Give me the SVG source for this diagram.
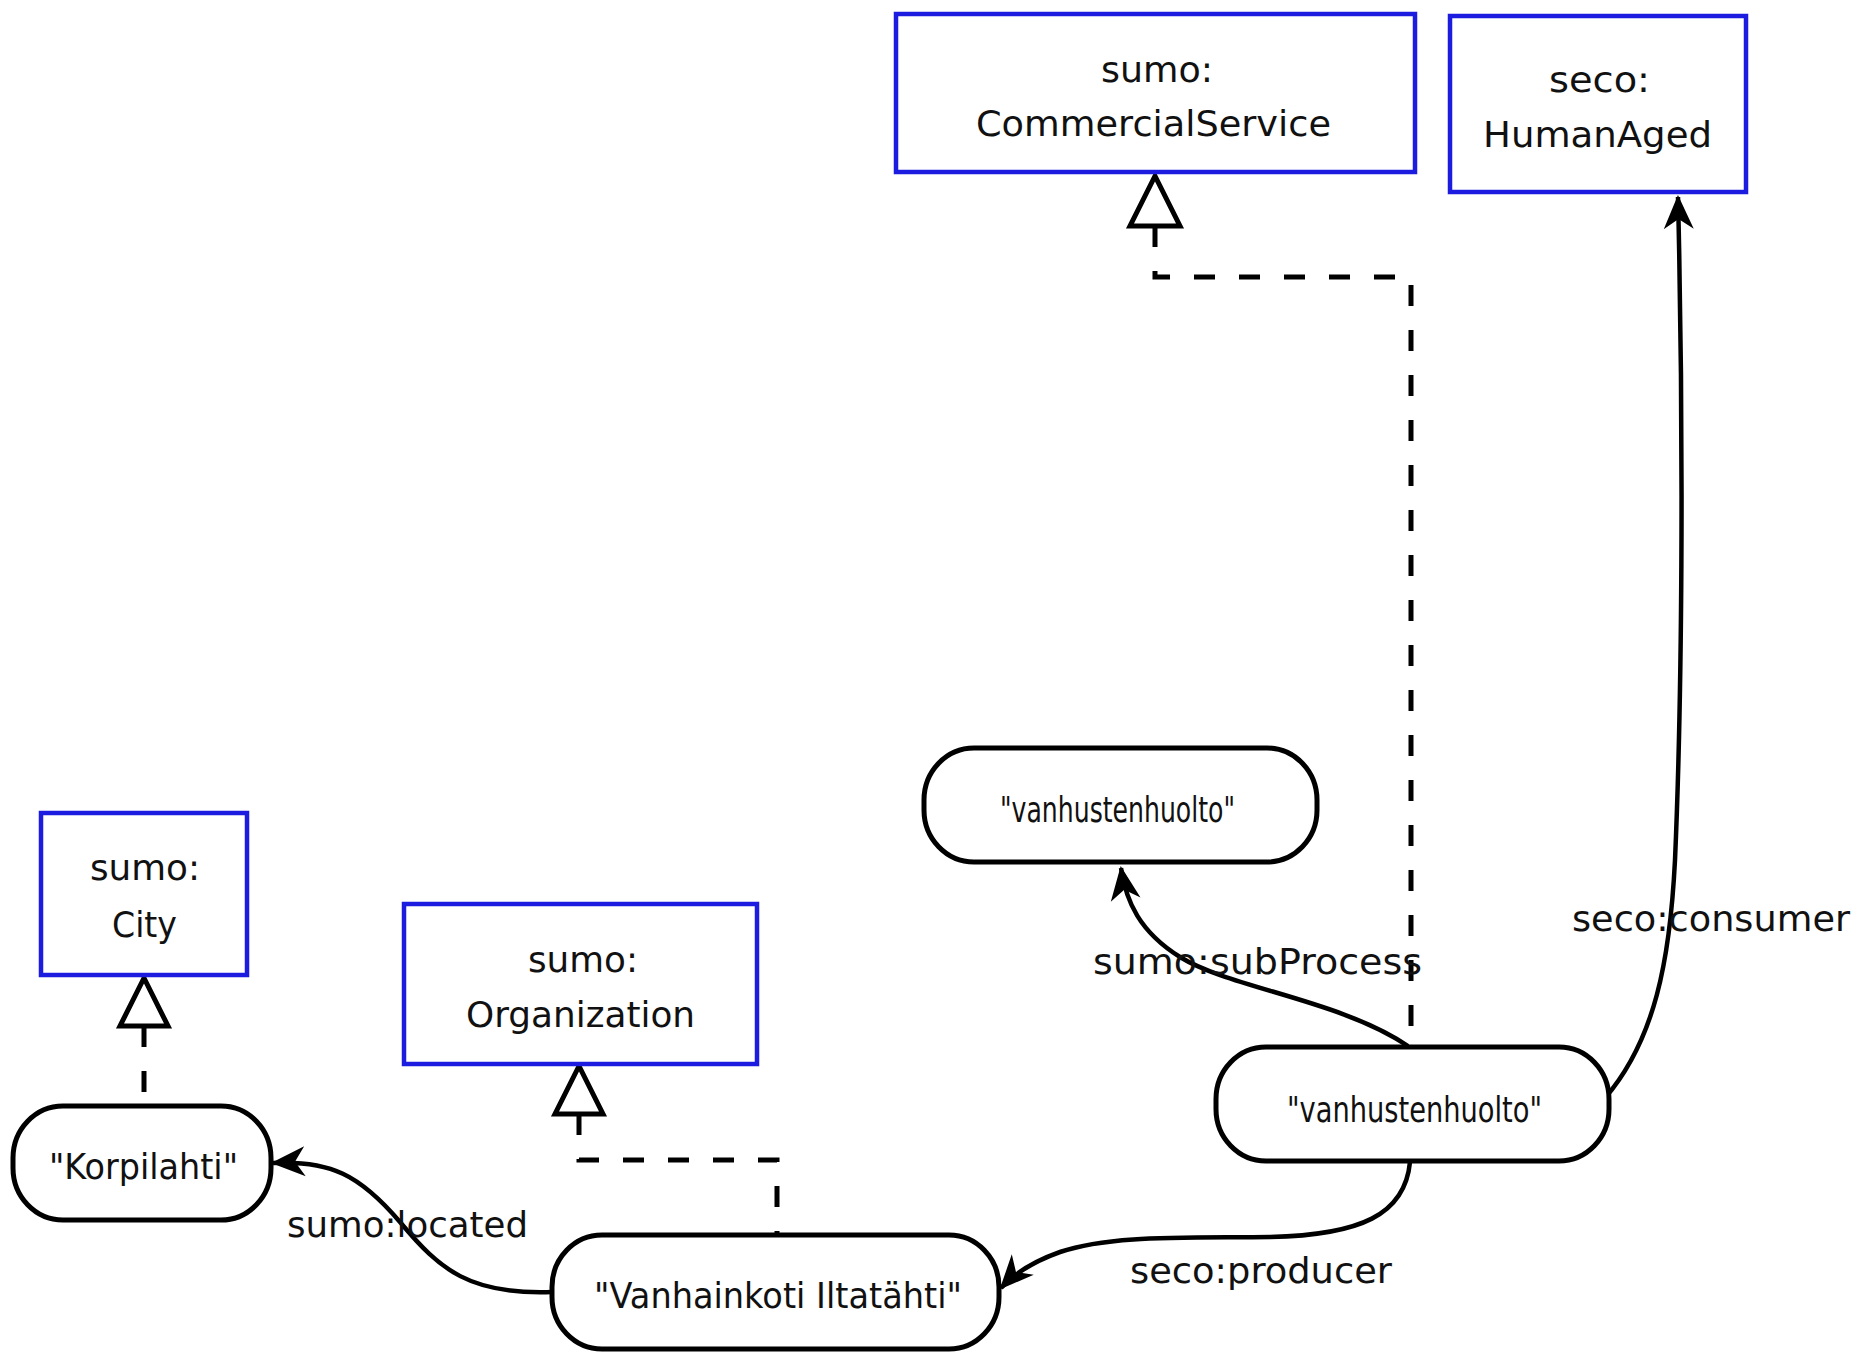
<svg xmlns="http://www.w3.org/2000/svg" width="1865" height="1354" viewBox="0 0 1865 1354">
<style>
.cls{fill:#fff;stroke:#1c1ce0;stroke-width:4.5}
.lit{fill:#fff;stroke:#000;stroke-width:5}
.t{font-family:"DejaVu Sans","Liberation Sans",sans-serif;font-size:36px;fill:#111}
.lbl{font-family:"DejaVu Sans","Liberation Sans",sans-serif;font-size:36px;fill:#111}
.edge{fill:none;stroke:#000;stroke-width:4.5}
.dash{fill:none;stroke:#000;stroke-width:5;stroke-dasharray:21 24}
.tri{fill:#fff;stroke:#000;stroke-width:5;stroke-linejoin:miter}
</style>
<defs>
<marker id="arr" markerWidth="44" markerHeight="40" refX="34" refY="17" orient="auto" markerUnits="userSpaceOnUse">
<path d="M36,17 L2,2 L12,17 L2,32 Z" fill="#000"/>
</marker>
</defs>
<rect width="1865" height="1354" fill="#fff"/>

<g id="connectors">
<path class="dash" d="M1155,226 L1155,277 L1411,277 L1411,1046"/>
<polygon class="tri" points="1155,176 1130,226 1180,226"/>
<path class="dash" d="M579,1114 L579,1160 L777,1160 L777,1235"/>
<polygon class="tri" points="579,1066 555,1114 603,1114"/>
<path class="dash" d="M144,1026 L144,1105"/>
<polygon class="tri" points="144,978 120,1026 168,1026"/>
<path class="edge" marker-end="url(#arr)" d="M1408,1046 C1340,1000 1230,988 1180,957 C1140,932 1126,902 1121,868"/>
<path class="edge" marker-end="url(#arr)" d="M1605,1098 C1655,1040 1670,960 1675,860 C1682,700 1684,450 1678,197"/>
<path class="edge" marker-end="url(#arr)" d="M1410,1162 C1405,1215 1360,1235 1270,1237 C1180,1238 1110,1235 1060,1252 C1032,1262 1014,1274 1001,1288"/>
<path class="edge" marker-end="url(#arr)" d="M552,1292 C470,1295 440,1270 400,1222 C360,1175 330,1160 273,1163"/>
<text class="lbl" x="1093" y="974" textLength="329" lengthAdjust="spacingAndGlyphs">sumo:subProcess</text>
<text class="lbl" x="1572" y="931" textLength="278" lengthAdjust="spacingAndGlyphs">seco:consumer</text>
<text class="lbl" x="1130" y="1283" textLength="262" lengthAdjust="spacingAndGlyphs">seco:producer</text>
<text class="lbl" x="287" y="1237" textLength="241" lengthAdjust="spacingAndGlyphs">sumo:located</text>
</g>

<g id="commercialservice">
<rect class="cls" x="896" y="14" width="519" height="158"/>
<text class="t" x="1101" y="82" textLength="112" lengthAdjust="spacingAndGlyphs">sumo:</text>
<text class="t" x="976" y="136" textLength="355" lengthAdjust="spacingAndGlyphs">CommercialService</text>
</g>
<g id="humanaged">
<rect class="cls" x="1450" y="16" width="296" height="176"/>
<text class="t" x="1549" y="92" textLength="101" lengthAdjust="spacingAndGlyphs">seco:</text>
<text class="t" x="1483" y="147" textLength="229" lengthAdjust="spacingAndGlyphs">HumanAged</text>
</g>
<g id="city">
<rect class="cls" x="41" y="813" width="206" height="162"/>
<text class="t" x="90" y="880" textLength="110" lengthAdjust="spacingAndGlyphs">sumo:</text>
<text class="t" x="112" y="937" textLength="65" lengthAdjust="spacingAndGlyphs">City</text>
</g>
<g id="organization">
<rect class="cls" x="404" y="904" width="353" height="160"/>
<text class="t" x="528" y="972" textLength="110" lengthAdjust="spacingAndGlyphs">sumo:</text>
<text class="t" x="466" y="1027" textLength="229" lengthAdjust="spacingAndGlyphs">Organization</text>
</g>
<g id="vanhustenhuolto1">
<rect class="lit" x="924" y="748" width="393" height="114" rx="50" ry="52"/>
<text class="t" x="1000" y="822" textLength="235" lengthAdjust="spacingAndGlyphs">"vanhustenhuolto"</text>
</g>
<g id="vanhustenhuolto2">
<rect class="lit" x="1216" y="1047" width="393" height="114" rx="50" ry="52"/>
<text class="t" x="1287" y="1122" textLength="255" lengthAdjust="spacingAndGlyphs">"vanhustenhuolto"</text>
</g>
<g id="korpilahti">
<rect class="lit" x="13" y="1106" width="258" height="114" rx="50" ry="52"/>
<text class="t" x="49" y="1179" textLength="189" lengthAdjust="spacingAndGlyphs">"Korpilahti"</text>
</g>
<g id="vanhainkoti">
<rect class="lit" x="552" y="1235" width="447" height="114" rx="50" ry="52"/>
<text class="t" x="594" y="1308" textLength="368" lengthAdjust="spacingAndGlyphs">"Vanhainkoti Iltatähti"</text>
</g>
</svg>
